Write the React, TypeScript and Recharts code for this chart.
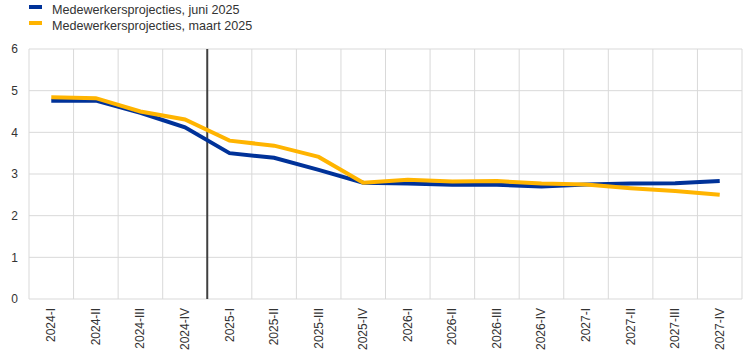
import React from 'react';
import { LineChart, Line, XAxis, YAxis, CartesianGrid, ReferenceLine } from 'recharts';

const quarters = [
  '2024-I', '2024-II', '2024-III', '2024-IV',
  '2025-I', '2025-II', '2025-III', '2025-IV',
  '2026-I', '2026-II', '2026-III', '2026-IV',
  '2027-I', '2027-II', '2027-III', '2027-IV',
];
// Medewerkersprojecties, juni 2025
const juni2025 = [4.76, 4.76, 4.47, 4.12, 3.5, 3.39, 3.1, 2.79, 2.77, 2.74, 2.74, 2.7, 2.75, 2.77, 2.78, 2.83];
// Medewerkersprojecties, maart 2025
const maart2025 = [4.84, 4.82, 4.5, 4.31, 3.8, 3.68, 3.41, 2.79, 2.86, 2.82, 2.83, 2.77, 2.75, 2.66, 2.59, 2.5];
const yTicks = [0, 1, 2, 3, 4, 5, 6];

const BLUE = '#003299';
const YELLOW = '#FFB400';
const FONT = '"Liberation Sans", Arial, sans-serif';

const data = quarters.map((q, i) => ({ q, juni: juni2025[i], maart: maart2025[i] }));

function QuarterTick({ x, y, payload }: any) {
  return (
    <text
      x={x}
      y={y}
      transform={`rotate(-90 ${x} ${y})`}
      textAnchor="end"
      dominantBaseline="central"
      fontSize={12}
      fontFamily={FONT}
      fill="#333"
    >
      {payload.value}
    </text>
  );
}

// vertical grid lines sit on the category boundaries, not the centres
const boundaries = ({ offset }: any) =>
  quarters.map((_, i) => offset.left + (i * offset.width) / quarters.length).concat(offset.left + offset.width);

const legendItems = [
  { label: 'Medewerkersprojecties, juni 2025', color: BLUE },
  { label: 'Medewerkersprojecties, maart 2025', color: YELLOW },
];

export default function App() {
  return (
    <div style={{ position: 'absolute', left: 0, top: 0, width: 744, height: 357, fontFamily: FONT }}>
      <div style={{ position: 'absolute', left: 29, top: 2, zIndex: 1 }}>
        {legendItems.map((it) => (
          <div key={it.label} style={{ display: 'flex', alignItems: 'center', height: 16, fontSize: 12.6, color: '#333' }}>
            <span style={{ display: 'inline-block', width: 13, height: 4, background: it.color, marginRight: 10, marginTop: -6 }} />
            {it.label}
          </div>
        ))}
      </div>
      <LineChart width={744} height={357} data={data} margin={{ top: 49, right: 2, bottom: 0, left: 0 }}>
        <CartesianGrid stroke="#d9d9d9" verticalCoordinatesGenerator={boundaries} />
        <XAxis
          dataKey="q"
          scale="band"
          interval={0}
          height={58}
          axisLine={false}
          tickLine={false}
          tickSize={0}
          tickMargin={9}
          tick={<QuarterTick />}
        />
        <YAxis
          domain={[0, 6]}
          ticks={yTicks}
          width={29}
          axisLine={false}
          tickLine={false}
          tickSize={0}
          tickMargin={11}
          tick={{ fontSize: 12, fill: '#333', fontFamily: FONT }}
        />
        <ReferenceLine x="2025-I" position="start" stroke="#404040" strokeWidth={2} />
        <Line dataKey="juni" stroke={BLUE} strokeWidth={4} dot={false} isAnimationActive={false} />
        <Line dataKey="maart" stroke={YELLOW} strokeWidth={4} dot={false} isAnimationActive={false} />
      </LineChart>
    </div>
  );
}
